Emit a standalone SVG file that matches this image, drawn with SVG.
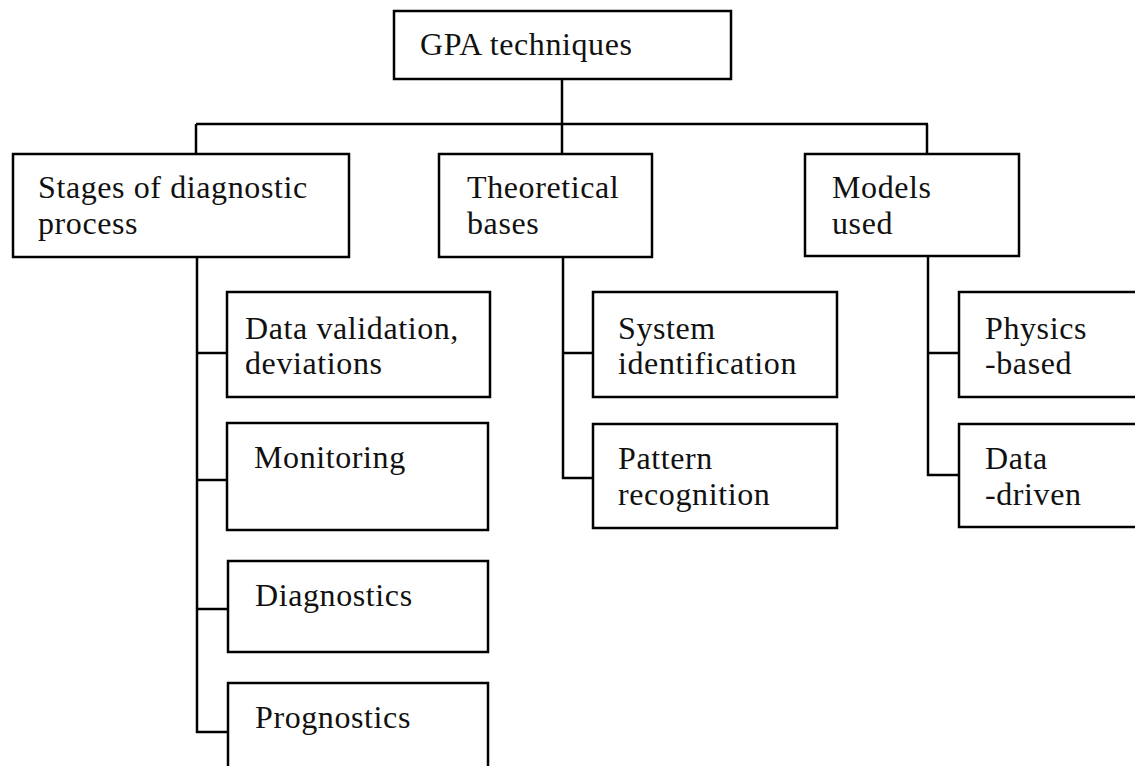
<svg xmlns="http://www.w3.org/2000/svg" width="1135" height="766" viewBox="0 0 1135 766">
<style>
.box{fill:#fff;stroke:#000;stroke-width:2.5}
.lbl{font-family:"Liberation Serif","Times New Roman",serif;font-size:32px;letter-spacing:0.6px;fill:#111}
#connectors line{stroke:#000;stroke-width:2.5}
</style>
<rect x="0" y="0" width="1135" height="766" fill="#fff"/>
<g id="connectors">
<line x1="562" y1="79" x2="562" y2="124"/>
<line x1="196" y1="124" x2="928" y2="124"/>
<line x1="196" y1="124" x2="196" y2="154"/>
<line x1="562" y1="124" x2="562" y2="154"/>
<line x1="927" y1="124" x2="927" y2="154"/>
<line x1="197" y1="257" x2="197" y2="733"/>
<line x1="196" y1="353" x2="227" y2="353"/>
<line x1="196" y1="480" x2="227" y2="480"/>
<line x1="196" y1="609" x2="229" y2="609"/>
<line x1="196" y1="732" x2="229" y2="732"/>
<line x1="563" y1="257" x2="563" y2="479"/>
<line x1="562" y1="353" x2="593" y2="353"/>
<line x1="562" y1="478" x2="593" y2="478"/>
<line x1="928" y1="256" x2="928" y2="476"/>
<line x1="927" y1="353" x2="959" y2="353"/>
<line x1="927" y1="475" x2="959" y2="475"/>
</g>
<g id="gpa"><rect class="box" x="394" y="11" width="337" height="68"/><text class="lbl" x="420" y="55">GPA techniques</text></g>
<g id="stages"><rect class="box" x="13" y="154" width="336" height="103"/><text class="lbl" x="38" y="198">Stages of diagnostic</text><text class="lbl" x="38" y="234">process</text></g>
<g id="theoretical"><rect class="box" x="439" y="154" width="213" height="103"/><text class="lbl" x="467" y="198">Theoretical</text><text class="lbl" x="467" y="234">bases</text></g>
<g id="models"><rect class="box" x="805" y="154" width="214" height="102"/><text class="lbl" x="832" y="198">Models</text><text class="lbl" x="832" y="234">used</text></g>
<g id="datavalidation"><rect class="box" x="227" y="292" width="263" height="105"/><text class="lbl" x="245" y="339">Data validation,</text><text class="lbl" x="245" y="374">deviations</text></g>
<g id="monitoring"><rect class="box" x="227" y="423" width="261" height="107"/><text class="lbl" x="254" y="468">Monitoring</text></g>
<g id="diagnostics"><rect class="box" x="228" y="561" width="260" height="91"/><text class="lbl" x="255" y="606">Diagnostics</text></g>
<g id="prognostics"><rect class="box" x="228" y="683" width="260" height="100"/><text class="lbl" x="255" y="728">Prognostics</text></g>
<g id="system"><rect class="box" x="593" y="292" width="244" height="105"/><text class="lbl" x="618" y="339">System</text><text class="lbl" x="618" y="374">identification</text></g>
<g id="pattern"><rect class="box" x="593" y="424" width="244" height="104"/><text class="lbl" x="618" y="469">Pattern</text><text class="lbl" x="618" y="505">recognition</text></g>
<g id="physics"><rect class="box" x="959" y="292" width="185" height="105"/><text class="lbl" x="985" y="339">Physics</text><text class="lbl" x="985" y="374">-based</text></g>
<g id="datadriven"><rect class="box" x="959" y="424" width="185" height="103"/><text class="lbl" x="985" y="469">Data</text><text class="lbl" x="985" y="505">-driven</text></g>
</svg>
